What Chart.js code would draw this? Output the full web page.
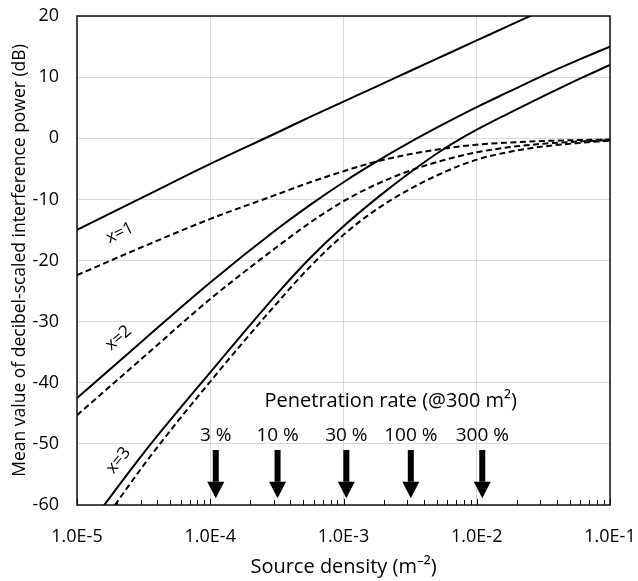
<!DOCTYPE html>
<html>
<head>
<meta charset="utf-8">
<script src="https://cdn.jsdelivr.net/npm/chart.js@4.4.0/dist/chart.umd.min.js"></script>
<style>
  body { margin: 0; background: #fff; }
</style>
</head>
<body>
<canvas id="chart" width="638" height="581"></canvas>
<script>
// source density (m^-2), shared by every curve
const density = [1e-5, 3.16e-5, 1e-4, 3.16e-4, 5.62e-4, 1e-3, 1.78e-3, 3.16e-3, 5.62e-3,
                 1e-2, 1.78e-2, 3.16e-2, 5.62e-2, 1e-1];

// solid = approximation, dashed = exact (dB)
const solid1  = [-15, -9.6, -4.2, 0.9, 3.5, 6.0, 8.5, 11.0, 13.5, 16.0, 18.5, 21.0, 23.5, 26.0];
const dashed1 = [-22.4, -17.7, -13.2, -9.2, -7.2, -5.4, -3.8, -2.6, -1.7, -1.05, -0.7, -0.45, -0.3, -0.2];
const solid2  = [-42.5, -33.0, -23.6, -14.9, -10.9, -7.2, -3.8, -0.65, 2.3, 5.1, 7.7, 10.3, 12.7, 15.0];
const dashed2 = [-45.3, -35.8, -26.3, -17.8, -13.8, -10.3, -7.5, -5.3, -3.6, -2.3, -1.45, -0.9, -0.55, -0.3];
const solid3  = [-66, -51.5, -38.3, -25.5, -19.6, -14.4, -9.8, -5.6, -1.8, 1.4, 4.2, 6.9, 9.5, 12.0];
const dashed3 = [-69, -53.5, -39.8, -27.0, -21.0, -15.8, -11.6, -8.3, -5.6, -3.5, -2.2, -1.35, -0.8, -0.4];

const xTickValues = [1e-5, 1e-4, 1e-3, 1e-2, 1e-1];
const xTickLabels = ['1.0E-5', '1.0E-4', '1.0E-3', '1.0E-2', '1.0E-1'];

const arrowDensity = [1.1e-4, 3.2e-4, 1.05e-3, 3.2e-3, 1.1e-2];
const arrowLabels = ['3 %', '10 %', '30 %', '100 %', '300 %'];
const curveLabels = ['x=1', 'x=2', 'x=3'];

const FONT = '"Open Sans", "Noto Sans", sans-serif';

function pts(ys) {
  return density.map((d, i) => ({x: d, y: ys[i]}));
}

function isDecade(v) {
  const l = Math.log10(v);
  return Math.abs(l - Math.round(l)) < 1e-9;
}

function line(ys, dashed) {
  return {
    data: pts(ys),
    borderColor: '#000',
    borderWidth: 2,
    borderDash: dashed ? [6, 3.5] : [],
    pointRadius: 0,
    fill: false,
    cubicInterpolationMode: 'monotone'
  };
}

// keep the plot box where the layout padding puts it
function noOverhang(scale) {
  scale.paddingTop = 0;
  scale.paddingBottom = 0;
  scale.paddingLeft = 0;
  scale.paddingRight = 0;
}

const annotate = {
  id: 'annotate',
  afterDraw(chart) {
    const {ctx, chartArea: a, scales: {x, y}} = chart;
    ctx.save();

    // ticks on the inside of the bottom axis
    ctx.strokeStyle = '#000';
    ctx.lineWidth = 1;
    x.ticks.forEach(t => {
      const px = Math.round(x.getPixelForValue(t.value)) + 0.5;
      const len = isDecade(t.value) ? 6 : 5;
      ctx.beginPath();
      ctx.moveTo(px, a.bottom);
      ctx.lineTo(px, a.bottom - len);
      ctx.stroke();
    });

    // plot frame
    ctx.lineWidth = 1.5;
    ctx.strokeStyle = '#111';
    ctx.strokeRect(a.left, a.top, a.right - a.left, a.bottom - a.top);

    // arrows
    ctx.fillStyle = '#000';
    const yTop = y.getPixelForValue(-51.0);
    const yHead = y.getPixelForValue(-56.2);
    const yTip = y.getPixelForValue(-58.9);
    ctx.textAlign = 'center';
    ctx.textBaseline = 'middle';
    arrowDensity.forEach((d, i) => {
      const px = x.getPixelForValue(d);
      ctx.fillRect(px - 3, yTop, 6, yHead - yTop);
      ctx.beginPath();
      ctx.moveTo(px - 8.5, yHead);
      ctx.lineTo(px + 8.5, yHead);
      ctx.lineTo(px, yTip);
      ctx.closePath();
      ctx.fill();

      ctx.font = '19px ' + FONT;
      ctx.fillText(arrowLabels[i], px, y.getPixelForValue(-48.6));
    });

    ctx.font = '20px ' + FONT;
    ctx.fillText('Penetration rate (@300 m\u00b2)', x.getPixelForValue(2.26e-3), y.getPixelForValue(-43.0));

    // curve labels
    const spots = [[2.1e-5, -15.5, 26], [2.05e-5, -32.7, 41], [2.05e-5, -52.7, 51]];
    ctx.font = '17px ' + FONT;
    spots.forEach((s, i) => {
      ctx.save();
      ctx.translate(x.getPixelForValue(s[0]), y.getPixelForValue(s[1]));
      ctx.rotate(-s[2] * Math.PI / 180);
      ctx.fillText(curveLabels[i], 0, 0);
      ctx.restore();
    });

    ctx.restore();
  }
};

const config = {
  type: 'line',
  data: {
    datasets: [
      line(solid1, false), line(dashed1, true),
      line(solid2, false), line(dashed2, true),
      line(solid3, false), line(dashed3, true)
    ]
  },
  options: {
    responsive: false,
    animation: false,
    layout: {
      padding: {top: 16, right: 28, bottom: 0, left: 0}
    },
    plugins: {
      legend: {display: false},
      tooltip: {enabled: false}
    },
    scales: {
      x: {
        type: 'logarithmic',
        min: 1e-5,
        max: 1e-1,
        afterBuildTicks: function(scale) {
          const t = [];
          for (let e = -5; e < -1; e++) {
            for (let m = 1; m < 10; m++) t.push({value: m * Math.pow(10, e)});
          }
          t.push({value: 0.1});
          scale.ticks = t;
        },
        afterFit: function(scale) {
          scale.height = 76;
          noOverhang(scale);
        },
        grid: {
          drawTicks: false,
          color: ctx => (ctx.tick && isDecade(ctx.tick.value)) ? '#d9d9d9' : 'rgba(0,0,0,0)',
          lineWidth: 1
        },
        border: {display: false},
        ticks: {
          autoSkip: false,
          maxRotation: 0,
          padding: 21,
          color: '#000',
          font: {family: FONT, size: 18},
          callback: function(value) {
            const i = xTickValues.findIndex(v => Math.abs(Math.log10(v) - Math.log10(value)) < 1e-6);
            return i >= 0 ? xTickLabels[i] : '';
          }
        },
        title: {
          display: true,
          text: 'Source density (m\u207b\u00b2)',
          color: '#000',
          font: {family: FONT, size: 20},
          padding: {top: 0, bottom: 2}
        }
      },
      y: {
        min: -60,
        max: 20,
        afterFit: function(scale) {
          scale.width = 77;
          noOverhang(scale);
        },
        grid: {
          drawTicks: false,
          color: '#d9d9d9',
          lineWidth: 1
        },
        border: {display: false},
        ticks: {
          stepSize: 10,
          padding: 18,
          color: '#000',
          font: {family: FONT, size: 18}
        },
        title: {
          display: true,
          text: 'Mean value of decibel-scaled interference power (dB)',
          color: '#000',
          font: {family: FONT, size: 17.5},
          padding: {top: 10, bottom: 0}
        }
      }
    }
  },
  plugins: [annotate]
};

const myChart = new Chart(document.getElementById('chart'), config);
</script>
</body>
</html>
